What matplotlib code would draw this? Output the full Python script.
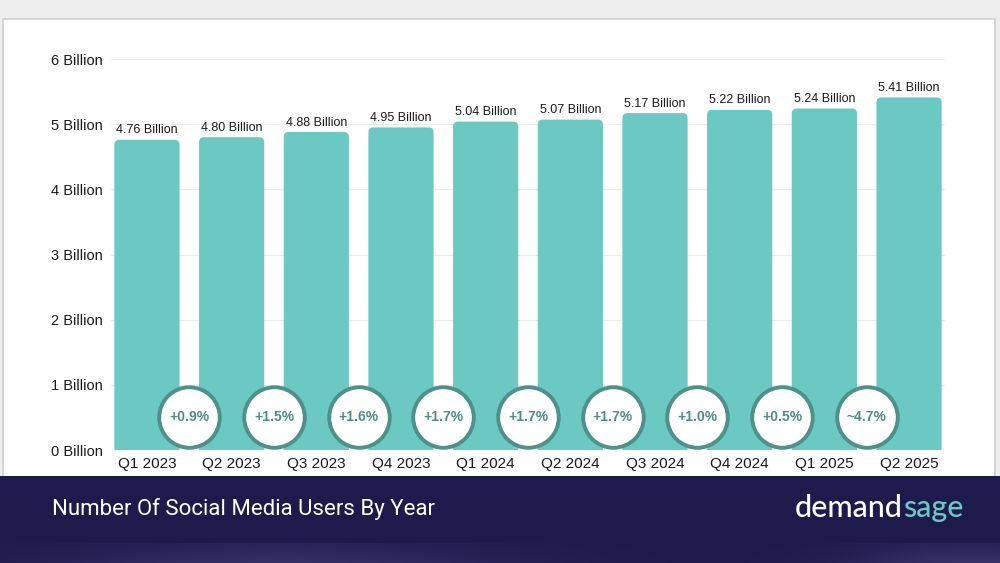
import matplotlib
matplotlib.use("Agg")
import matplotlib.pyplot as plt
from matplotlib.patches import FancyBboxPatch, Rectangle
import numpy as np

categories = ["Q1 2023", "Q2 2023", "Q3 2023", "Q4 2023", "Q1 2024",
              "Q2 2024", "Q3 2024", "Q4 2024", "Q1 2025", "Q2 2025"]
users_billion = [4.76, 4.80, 4.88, 4.95, 5.04, 5.07, 5.17, 5.22, 5.24, 5.41]
value_labels = ["4.76 Billion", "4.80 Billion", "4.88 Billion", "4.95 Billion", "5.04 Billion",
                "5.07 Billion", "5.17 Billion", "5.22 Billion", "5.24 Billion", "5.41 Billion"]
growth_labels = ["+0.9%", "+1.5%", "+1.6%", "+1.7%", "+1.7%", "+1.7%", "+1.0%", "+0.5%", "~4.7%"]
y_ticks = [0, 1, 2, 3, 4, 5, 6]
y_tick_labels = ["0 Billion", "1 Billion", "2 Billion", "3 Billion", "4 Billion", "5 Billion", "6 Billion"]

plt.rcParams["font.family"] = ["Liberation Sans", "DejaVu Sans"]

BAR = "#6cc8c3"
CIRCLE_EDGE = "#4e918a"
CIRCLE_TEXT = "#4e8d87"
NAVY = "#1e1a4b"

W, H = 1000, 563
fig = plt.figure(figsize=(W / 100, H / 100), dpi=100)
fig.patch.set_facecolor("#eeeeee")

# background layers
bg = fig.add_axes([0, 0, 1, 1], zorder=-10)
bg.set_xlim(0, W); bg.set_ylim(H, 0); bg.axis("off")
bg.add_patch(Rectangle((3, 19), 992, 460, facecolor="white", edgecolor="#cfcfcf", lw=1.2))
bg.add_patch(Rectangle((0, 476), W, 68, facecolor=NAVY, edgecolor="none"))
xs = np.linspace(0, 1, 400)
glow = 0.55 * np.exp(-((xs - 0.28) / 0.22) ** 2) + 0.6 * np.exp(-((xs - 0.97) / 0.12) ** 2)
ys = np.linspace(0, 1, 20)[:, None]
strength = glow[None, :] * (0.4 + 0.6 * ys)
base = np.array([0x1e, 0x1a, 0x4b]) / 255
light = np.array([0x45, 0x42, 0x78]) / 255
img = base[None, None, :] * (1 - strength[..., None]) + light[None, None, :] * strength[..., None]
bg.imshow(img, extent=(0, W, 563, 543), aspect="auto", zorder=1)

# main axes
x0, x1 = 111.4 / W, 944.6 / W
yb, yt = (H - 450) / H, (H - 59) / H
ax = fig.add_axes([x0, yb, x1 - x0, yt - yb])
ax.set_facecolor("none")
x = np.arange(len(categories))
ax.set_xlim(-0.42, len(categories) - 1 + 0.42)
ax.set_ylim(0, 6)
for s in ax.spines.values():
    s.set_visible(False)
ax.set_yticks(y_ticks)
ax.set_yticklabels(y_tick_labels, fontsize=10.5, color="#1a1a1a")
ax.set_xticks(x)
ax.set_xticklabels(categories, fontsize=11, color="#1a1a1a")
ax.tick_params(length=0, pad=5)
ax.tick_params(axis="y", pad=6)
ax.grid(axis="y", color="#ececec", lw=0.8)
ax.set_axisbelow(True)

# rounded-top bars
bw = 0.77
ax_w_px = (x1 - x0) * W
ax_h_px = (yt - yb) * H
px_per_x = ax_w_px / (ax.get_xlim()[1] - ax.get_xlim()[0])
px_per_y = ax_h_px / 6
r_px = 5
rx = r_px / px_per_x
aspect = (r_px / px_per_y) / rx
for xi, v, lab in zip(x, users_billion, value_labels):
    p = FancyBboxPatch((xi - bw / 2, -0.5), bw, v + 0.5,
                       boxstyle=f"round,pad=0,rounding_size={rx}",
                       mutation_aspect=aspect, facecolor=BAR, edgecolor="none", zorder=2)
    ax.add_patch(p)
    ax.annotate(lab, (xi, v), xytext=(0, 2.5), textcoords="offset points",
                ha="center", va="bottom", fontsize=9, color="#1a1a1a", zorder=3)

# growth circles between bars
cx = x[:-1] + 0.5
cy = [0.5] * len(growth_labels)
ax.scatter(cx, cy, s=1900, facecolor="white", edgecolor=CIRCLE_EDGE, linewidths=2.8, zorder=4, clip_on=False)
for xi, yi, t in zip(cx, cy, growth_labels):
    ax.text(xi, yi, t, ha="center", va="center", fontsize=10, fontweight="bold", color=CIRCLE_TEXT, zorder=5)

# footer text
fig.text(52 / W, 1 - 509 / H, "Number Of Social Media Users By Year", fontsize=16,
         color="white", ha="left", va="center", family=["Liberation Sans Narrow", "Roboto", "DejaVu Sans"])
t1 = fig.text(795 / W, 1 - 508 / H, "demand", fontsize=22, color="white", ha="left", va="center",
              family=["Lato", "DejaVu Sans"], fontweight="medium")
fig.canvas.draw()
bb = t1.get_window_extent()
fig.text(bb.x1 / W, 1 - 508 / H, "sage", fontsize=22, color=BAR, ha="left", va="center",
         family=["Lato", "DejaVu Sans"], fontweight="medium")

fig.savefig("out.png", dpi=100)
